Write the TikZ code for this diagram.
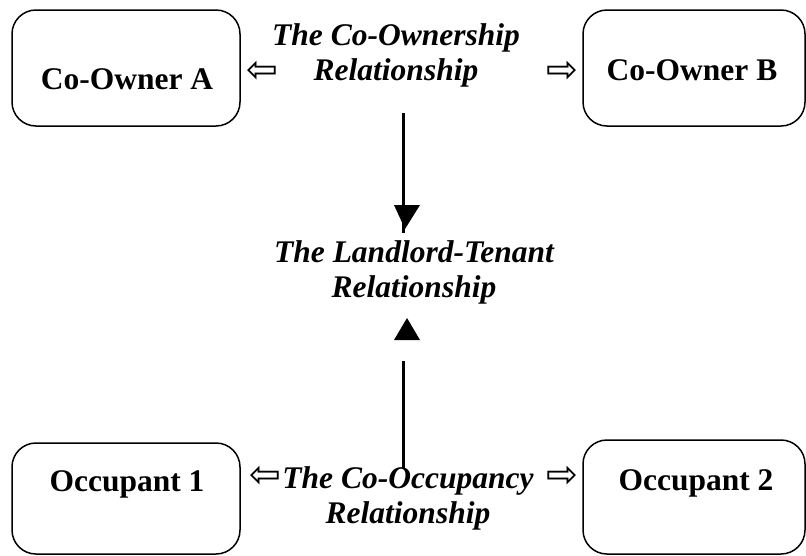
\documentclass[tikz,border=0pt]{standalone}
\usepackage{fontspec}
\setmainfont{Liberation Serif}
\newfontfamily\arrowfont{DejaVu Sans}
\begin{document}
\begin{tikzpicture}[x=1pt, y=-1pt,
    partybox/.style={draw, line width=1.5pt, rounded corners=24pt, inner sep=0pt},
    partytext/.style={anchor=base, inner sep=0pt, font=\fontsize{31.5}{36}\selectfont\bfseries},
    reltext/.style={anchor=base, align=center, inner sep=0pt, font=\fontsize{31.5}{35}\selectfont\bfseries\itshape},
    hollow/.style={inner sep=0pt, font=\fontsize{38}{38}\selectfont\arrowfont}]
    \useasboundingbox (0,0) rectangle (806,555);
    % parties
    \node [partybox, minimum width=228pt, minimum height=116pt] (coA) at (126,68) {};
    \node [partytext] (coAtext) at (127,89) {Co-Owner A};
    \node [partybox, minimum width=222pt, minimum height=116pt] (coB) at (694,68) {};
    \node [partytext] (coBtext) at (692,80) {Co-Owner B};
    \node [partybox, minimum width=228pt, minimum height=111pt] (occA) at (126,498.5) {};
    \node [partytext] (occAtext) at (127,491) {Occupant 1};
    \node [partybox, minimum width=222pt, minimum height=114pt] (occB) at (694,497) {};
    \node [partytext] (occBtext) at (696,490) {Occupant 2};
    % relationships (base = last line)
    \node [reltext] (ownrel) at (396,80) {The Co-Ownership\\Relationship};
    \node [reltext] (leaserel) at (414,297) {The Landlord-Tenant\\Relationship};
    \node [reltext] (occrel) at (408,523) {The Co-Occupancy\\Relationship};
    \node [hollow] (ownleft) at (262,72) {⇦};
    \node [hollow] (ownright) at (562,72) {⇨};
    \node [hollow] (occleft) at (265,477) {⇦};
    \node [hollow] (occright) at (562,477) {⇨};
    % vertical arrows
    \coordinate (downtail) at (403,113);
    \coordinate (downend) at (403,233);
    \coordinate (uptail) at (403,468);
    \coordinate (upend) at (403,361);
    \draw [black, line width=3pt] (downtail) -- (downend);
    \fill [black] (394,205) -- (420,205) -- (405,229) -- cycle;
    \draw [black, line width=3pt] (uptail) -- (upend);
    \fill [black] (394,340) -- (420,340) -- (407,318) -- cycle;
\end{tikzpicture}
\end{document}
